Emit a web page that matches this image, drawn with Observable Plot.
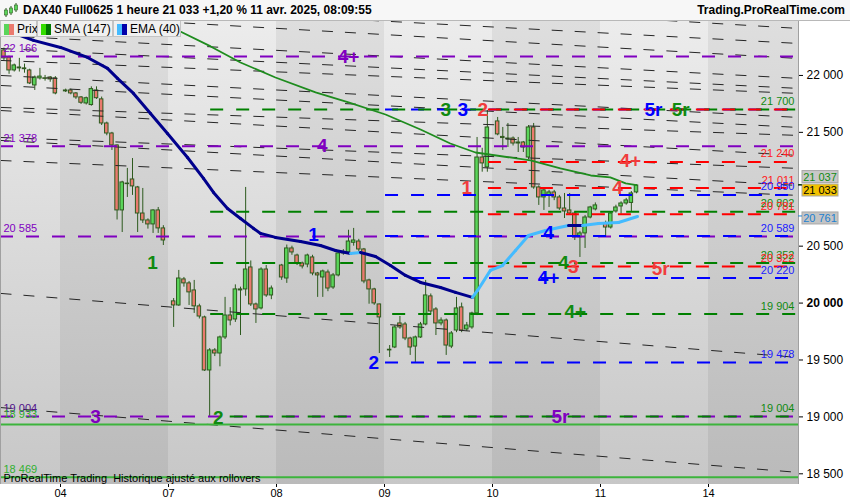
<!DOCTYPE html>
<html><head><meta charset="utf-8">
<script src="https://cdn.jsdelivr.net/npm/d3@7"></script>
<script src="https://cdn.jsdelivr.net/npm/@observablehq/plot@0.6"></script>
<style>
body{margin:0;background:#fff;font-family:"Liberation Sans",Arial,sans-serif;}
#wrap{position:relative;width:850px;height:500px;overflow:hidden;}
#title{height:20px;border-bottom:1px solid #b8b8b8;background:#f7f7f7;position:relative;font-weight:bold;font-size:12px;line-height:20px;color:#000;}
#title .l{position:absolute;left:23px;top:0;}
#title .r{position:absolute;right:5px;top:0;}
#title svg{position:absolute;left:3px;top:3px;}
#legend{position:absolute;left:0;top:21px;height:17px;font-size:12px;line-height:16px;}
#legend div{position:absolute;top:0;height:16px;background:#f0f0f0;border:1px solid #c4c4c4;border-top:none;box-sizing:border-box;}
#legend span.sw{position:absolute;left:3px;top:3px;width:5px;height:11px;}
#legend span.sw2{position:absolute;left:8px;top:3px;width:5px;height:11px;}
#legend span.t{position:absolute;left:16px;top:0;white-space:nowrap;}
#chart{position:absolute;left:0;top:21px;}
</style></head>
<body><div id="wrap">
<div id="title"><svg width="16" height="15"><line x1="3" y1="5" x2="3" y2="14" stroke="#2d5a1e"/><rect x="1.5" y="7" width="3" height="5" fill="#5ad55a" stroke="#2d5a1e" stroke-width="0.6"/><line x1="8" y1="3" x2="8" y2="12" stroke="#2d5a1e"/><rect x="6.5" y="5" width="3" height="5" fill="#5ad55a" stroke="#2d5a1e" stroke-width="0.6"/><line x1="13" y1="0" x2="13" y2="9" stroke="#2d5a1e"/><rect x="11.5" y="2" width="3" height="5" fill="#5ad55a" stroke="#2d5a1e" stroke-width="0.6"/></svg><span class="l">DAX40 Full0625 1 heure 21 033 +1,20 % 11 avr. 2025, 08:09:55</span><span class="r">Trading.ProRealTime.com</span></div>
<div id="chart"></div>
<div id="legend">
<div style="left:0;width:37px"><span class="sw" style="background:#5ad55a"></span><span class="sw2" style="background:#ea7a6e;left:8px"></span><span class="t">Prix</span></div>
<div style="left:37px;width:76px"><span class="sw" style="background:#33dd00"></span><span class="sw2" style="background:#007700"></span><span class="t">SMA (147)</span></div>
<div style="left:113px;width:68px"><span class="sw" style="background:#44bbff"></span><span class="sw2" style="background:#0000aa"></span><span class="t">EMA (40)</span></div>
</div>
</div>
<script>
// ---------- data ----------
const dayLabels = ["04","07","08","09","10","11","14"];
const dayTicks = [-1, 20, 41, 62, 83, 104, 125];
const yTicks = [18500, 19000, 19500, 20000, 20500, 21500, 22000];
const X0 = -12.667, X1 = 142.5, Y0 = 18406, Y1 = 22474;

// hourly candles [open, high, low, close], first slot of each day
const start03 = -12, start04 = 0, start07 = 21, start08 = 42, start09 = 63, start10 = 84, start11 = 105;
const ohlc03 = [
 [22220,22240,22130,22150],[22158,22170,22010,22044],[22044,22100,22030,22088],[22070,22150,22030,22062],
 [22062,22100,22020,22055],[22044,22055,21920,21930],[21912,21995,21868,21982],[21974,22062,21960,21990],
 [21975,22000,21950,21970],[21982,21990,21940,21965],[21974,21990,21830,21842]];
const ohlc04 = [
 [21868,21880,21850,21860],[21868,21880,21830,21842],[21842,21850,21790,21807],[21807,21815,21745,21760],
 [21754,21810,21740,21800],[21740,21900,21730,21880],[21868,21900,21790,21800],[21790,21810,21560,21578],
 [21578,21590,21470,21490],[21490,21500,21341,21385],[21385,21390,20730,20814],[20814,21070,20620,21060],
 [21045,21183,20928,21050],[21086,21270,20946,21025],[21016,21025,20620,20787],[20787,21007,20700,20726],
 [20726,20740,20650,20691],[20691,20820,20612,20814],[20814,20840,20612,20656],[20656,20680,20506,20550]];
const ohlc07 = [
 [20015,20040,19786,19979],[19979,20287,19971,20216],[20208,20225,20140,20173],[20173,20190,19979,20094],
 [20111,20199,19909,19971],[19971,19990,19860,19882],[19874,19885,19400,19408],[19408,19600,19004,19584],
 [19584,19600,19530,19557],[19557,19710,19440,19698],[19698,20050,19680,19891],[19891,19960,19800,19847],
 [19856,20160,19830,20120],[20120,20140,19715,20111],[20120,21016,20060,20295],[20313,20370,19970,19988],
 [19988,20000,19821,19944],[19953,20310,19940,20295],[20295,20330,20050,20067],[20067,20150,20030,20128]];
const ohlc08 = [
 [20330,20340,20200,20225],[20216,20510,20173,20480],[20480,20500,20420,20445],[20418,20430,20330,20348],
 [20348,20360,20300,20322],[20339,20430,20310,20418],[20401,20420,20240,20260],[20260,20270,20050,20243],
 [20225,20290,20050,20278],[20269,20290,20100,20128],[20137,20260,20120,20243],[20243,20460,20230,20436],
 [20450,20470,20420,20436],[20445,20640,20430,20541],[20530,20656,20500,20550],[20541,20560,20440,20471],
 [20471,20480,20170,20190],[20199,20210,19990,20120],[20120,20130,19980,19997],[19988,19990,19557,19874]];
const ohlc09 = [
 [19584,19627,19522,19590],[19610,19800,19600,19786],[19821,19882,19770,19786],[19812,19830,19670,19689],
 [19689,19700,19540,19610],[19618,19710,19478,19698],[19698,19830,19690,19812],[19812,20199,19800,20067],
 [20059,20080,19900,19926],[19944,19960,19715,19821],[19821,19870,19800,19847],[19847,19860,19540,19627],
 [19618,19750,19600,19733],[19759,20050,19740,19953],[19962,20000,19740,19759],[19768,19830,19750,19803],
 [19786,19920,19770,19909],[19909,21455,19890,21279],[21279,21360,21150,21227],[21192,21692,21150,21543]];
const ohlc10 = [
 [21596,21631,21470,21482],[21460,21543,21341,21450],[21446,21578,21367,21440],[21446,21460,21380,21402],
 [21402,21455,21323,21411],[21411,21420,21323,21367],[21279,21560,21260,21543],[21543,21578,21000,21016],
 [21016,21030,20858,20928],[20928,21000,20814,20990],[20946,20990,20840,20972],[20972,20990,20900,20928],
 [20928,20946,20814,20831],[20831,20963,20743,20805],[20814,20963,20770,20787],[20787,20800,20550,20577],
 [20577,20630,20401,20612],[20612,20770,20480,20752],[20752,20850,20740,20840],[20823,20880,20810,20858]];
const ohlc11 = [
 [20700,20720,20577,20664],[20664,20800,20650,20787],[20805,20860,20790,20840],[20849,20890,20780,20875],
 [20875,20920,20860,20902],[20880,20980,20800,20963],[20972,21040,20960,21033]];

// SMA (147) and EMA (40): [slot, value]
const smaPts = [[20.4,22448],[22.3,22386],[28.2,22255],[34.0,22114],[40.8,21982],[48.6,21851],[55.0,21763],
 [62.2,21657],[69.0,21525],[74.8,21402],[79.7,21323],[90.4,21253],[96.2,21183],[102.1,21121],[105.9,21104],
 [108.9,21051],[111,21037]];
const emaPts = [[-8.8,22351],[-6.25,22308],[-1,22246],[4.25,22158],[8.14,22062],[10.08,21974],[13.19,21842],
 [16.5,21666],[19.8,21490],[23.7,21279],[26.8,21095],[28.75,20972],[31.47,20831],[34.0,20743],[36.53,20656],
 [37.9,20612],[40.8,20577],[45.67,20541],[49.55,20506],[52.47,20462],[55.39,20436],[57.33,20445],[60.25,20409],
 [63.17,20330],[66.08,20243],[69.0,20181],[72.89,20137],[75.8,20094],[79.1,20050],[80.1,20111],[82.6,20287],
 [84.94,20330],[87.47,20462],[90.0,20594],[93.3,20638],[97.78,20682],[100.5,20682],[103.6,20700],[107.5,20708],
 [111.2,20761]];

// black dashed trend lines: price at left edge, price at right edge
const trendLeft  = [22835,22659,22554,22351,22237,22132,22000,21912,21719,21692,21455,21429,21253,20085,19082];
const trendRight = [22413,22281,22149,21974,21886,21842,21631,21543,21473,21297,21183,21033,20946,19522,18512];

// horizontal levels: price, colour, first slot
const levelPrice = [22166,21378,20585,19004, 21700,20950,20589,20220,19478, 21700,20802,20352,19904,19004, 21700,21240,21011,20781,20322];
const levelColor = ["#8000c0","#8000c0","#8000c0","#8000c0",
 "#0000ff","#0000ff","#0000ff","#0000ff","#0000ff",
 "#008000","#008000","#008000","#008000","#008000",
 "#ff0000","#ff0000","#ff0000","#ff0000","#ff0000"];
const levelFrom = [X0,X0,X0,X0, 62.2,62.2,62.2,62.2,62.2, 28.2,28.2,28.2,28.2,32, 82.2,82.2,82.2,82.2,82.2];
const solidLevels = [18933, 18469];

// pivot labels
const pivText  = ["4+","4","3","5r","1","2","3","3","2","5r","5r","4+","1","4","1","4","4","3","5r","4+","4+","2"];
const pivSlot  = [55.0,49.9,5.8,96.2,16.9,29.7,73.9,77.2,81.1,114.3,119.6,109.8,78.0,107.3,48.2,93.9,96.8,98.7,115.7,93.9,99.1,59.9];
const pivPrice = [22166,21378,19004,19004,20357,18990,21700,21700,21700,21700,21700,21250,21011,21011,20595,20620,20352,20322,20300,20220,19925,19478];
const pivColor = ["#8000c0","#8000c0","#8000c0","#8000c0","#108a10","#108a10","#108a10","#0000ff","#f03c3c","#0000ff","#108a10",
 "#f03c3c","#f03c3c","#f03c3c","#0000ff","#0000ff","#108a10","#f03c3c","#f03c3c","#0000ff","#108a10","#0000ff"];

// level value labels
const rightLabPrice = [21700,21240,21011,20950,20802,20781,20589,20352,20322,20220,19904,19478,19004];
const rightLabColor = ["#108a10","#ff2020","#ff2020","#2020ff","#108a10","#ff2020","#2020ff","#108a10","#ff2020","#2020ff","#108a10","#2020ff","#108a10"];
const leftLabPrice = [22166,21378,20585,19004,18950,18469];
const leftLabColor = ["#8000c0","#8000c0","#8000c0","#50108a","#30b030","#30b030"];

// axis value boxes
const boxPrice = [21037, 21033, 20761];
const boxShift = [-8, 5, 2];
const boxFill = ["#c8c8c8","#f2c200","#c4c4c4"];
const boxText = ["#108a10","#000000","#2080d0"];

// ---------- build ----------
const fmt = v => d3.format(",")(v).replace(/,/g, " ");
const candles = [];
[[start03,ohlc03],[start04,ohlc04],[start07,ohlc07],[start08,ohlc08],[start09,ohlc09],[start10,ohlc10],[start11,ohlc11]]
 .forEach(([s0, arr]) => arr.forEach((d, i) => candles.push({s: s0 + i, o: d[0], h: d[1], l: d[2], c: d[3]})));
const sma = smaPts.map(([s, v]) => ({s, v}));
const emaSegs = [];
for (let i = 1; i < emaPts.length; i++) {
  const col = emaPts[i][1] > emaPts[i-1][1] ? "#44bbff" : "#00008c";
  emaSegs.push({seg: i, s: emaPts[i-1][0], v: emaPts[i-1][1], col});
  emaSegs.push({seg: i, s: emaPts[i][0], v: emaPts[i][1], col});
}
const trends = trendLeft.map((p, i) => ({p1: p, p2: trendRight[i]}));
const levels = levelPrice.map((p, i) => ({p, col: levelColor[i], from: levelFrom[i]}));
const pivots = pivText.map((t, i) => ({t, s: pivSlot[i], p: pivPrice[i], col: pivColor[i]}));
const rightLabs = rightLabPrice.map((p, i) => ({p, col: rightLabColor[i], t: fmt(p)}));
const leftLabs = leftLabPrice.map((p, i) => ({p, col: leftLabColor[i], t: fmt(p === 18950 ? 18933 : p)}));
const edges = [X0, ...dayTicks, X1];
const bands = [];
for (let i = 0; i < edges.length - 1; i++) bands.push({x1: edges[i], x2: edges[i+1], dark: i % 2 === 1});
const tickLab = new Map(dayTicks.map((t, i) => [t, dayLabels[i]]));

const chart = Plot.plot({
  width: 850, height: 479,
  marginLeft: 0, marginRight: 52, marginTop: 0, marginBottom: 16,
  style: {fontFamily: "Liberation Sans, Arial, sans-serif", fontSize: "11px", background: "white", color: "black"},
  x: {domain: [X0, X1], ticks: dayTicks, tickFormat: d => tickLab.get(d) ?? "", tickSize: 3, tickPadding: 2, label: null},
  y: {domain: [Y0, Y1], axis: "right", ticks: yTicks, tickFormat: fmt, tickSize: 4, tickPadding: 4, label: null},
  color: {type: "identity"},
  marks: [
    Plot.rect(bands.filter(b => !b.dark), {x1: "x1", x2: "x2", y1: () => Y0, y2: () => Y1, fill: "url(#gl)"}),
    Plot.rect(bands.filter(b => b.dark), {x1: "x1", x2: "x2", y1: () => Y0, y2: () => Y1, fill: "url(#gd)"}),
    Plot.ruleX(candles, {x: "s", y1: "l", y2: "h", stroke: "#2d5a1e", strokeWidth: 1}),
    Plot.rect(candles, {x1: d => d.s - 0.34, x2: d => d.s + 0.34, y1: "o", y2: d => (Math.abs(d.c - d.o) < 4 ? d.o + 4 : d.c),
      fill: d => d.c >= d.o ? "#5ad55a" : "#ea7a6e", stroke: "#2d5a1e", strokeWidth: 1}),
    Plot.link(trends, {x1: () => X0, y1: "p1", x2: () => X1, y2: "p2", stroke: "#262626", strokeWidth: 1, strokeDasharray: "11,12", clip: true}),
    Plot.ruleY(solidLevels, {stroke: "#3cb43c", strokeWidth: 2}),
    Plot.ruleY(levels, {y: "p", x1: "from", x2: () => X1, stroke: "col", strokeWidth: 2, strokeDasharray: "13,13"}),
    Plot.line(sma, {x: "s", y: "v", stroke: "#1e8c1e", strokeWidth: 1.8, clip: true}),
    Plot.line(emaSegs, {x: "s", y: "v", z: "seg", stroke: "col", strokeWidth: 3, clip: true}),
    Plot.text(rightLabs, {x: () => X1, y: "p", text: "t", fill: "col", textAnchor: "end", dx: -4, dy: -8, fontSize: 11}),
    Plot.text(leftLabs, {x: () => X0, y: "p", text: "t", fill: "col", textAnchor: "start", dx: 3, dy: -8, fontSize: 11}),
    Plot.text(pivots, {x: "s", y: "p", text: "t", fill: "col", fontSize: 19, fontWeight: "bold"}),
    Plot.text(["ProRealTime Trading  Historique ajusté aux rollovers"], {frameAnchor: "bottom-left", text: d => d, dx: 3, dy: -3, fontSize: 11, fill: "black"}),
    Plot.ruleX([X1], {stroke: "#a0a0a0"}),
    Plot.ruleX([X0], {stroke: "#a0a0a0"})
  ]
});
document.getElementById("chart").appendChild(chart);

// gradients
const svg = d3.select(chart);
svg.insert("defs", ":first-child").html(
 '<linearGradient id="gl" x1="0" y1="0" x2="0" y2="1"><stop offset="0" stop-color="#ececec"/><stop offset="1" stop-color="#c7c7c7"/></linearGradient>' +
 '<linearGradient id="gd" x1="0" y1="0" x2="0" y2="1"><stop offset="0" stop-color="#dedede"/><stop offset="1" stop-color="#bababa"/></linearGradient>');
// bold 20 000
svg.selectAll("text").filter(function(){ return this.textContent === "20 000"; }).attr("font-weight", "bold").style("font-size", "12px");
svg.selectAll("g[aria-label='y-axis tick label'] text").style("font-size", "12px");
// value boxes on the price axis
const ys = chart.scale("y");
const xr = chart.scale("x").range[1];
boxPrice.forEach((p, i) => {
  const cy = ys.apply(p) + boxShift[i];
  svg.append("rect").attr("x", xr + 4).attr("y", cy - 6).attr("width", 36).attr("height", 12)
    .attr("fill", boxFill[i]).attr("stroke", "#a8a8a8");
  svg.append("line").attr("x1", xr).attr("x2", xr + 4).attr("y1", ys.apply(p)).attr("y2", ys.apply(p)).attr("stroke", boxText[i]);
  svg.append("text").attr("x", xr + 22).attr("y", cy + 4).attr("text-anchor", "middle")
    .attr("fill", boxText[i]).attr("font-size", 11).attr("font-family", "Liberation Sans, Arial, sans-serif").text(fmt(p));
});
</script>
</body></html>
